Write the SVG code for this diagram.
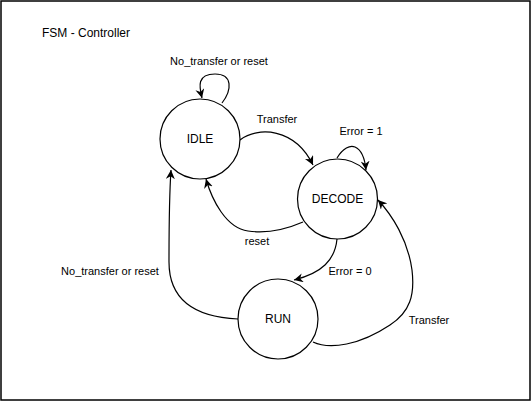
<svg xmlns="http://www.w3.org/2000/svg" width="531" height="402" viewBox="0 0 531 402">
<defs>
<marker id="arr" viewBox="0 0 10 10" refX="10" refY="5" markerWidth="9" markerHeight="9" markerUnits="userSpaceOnUse" orient="auto">
<path d="M0,0 L10,5 L0,10 L3,5 Z" fill="#000"/>
</marker>
</defs>
<style>
.st{fill:#fff;stroke:#000;stroke-width:1.2}
.nt{font-family:"Liberation Sans",Arial,sans-serif;font-size:12px;fill:#000;text-anchor:middle}
.lb{font-family:"Liberation Sans",Arial,sans-serif;font-size:11px;fill:#000;text-anchor:middle}
.ed{fill:none;stroke:#000;stroke-width:1.2;marker-end:url(#arr)}
</style>
<rect x="1" y="1" width="529" height="399" fill="#fff" stroke="#000" stroke-width="1.5"/>
<text x="42" y="37" style="font-family:'Liberation Sans',Arial,sans-serif;font-size:12px;fill:#000">FSM - Controller</text>
<g id="connectors">
<path class="ed" d="M222,103 C232,90 233,74 215,74 C197,74 199,86 202,98"/>
<path class="ed" d="M240,140 C258,126 295,128 313,165"/>
<path class="ed" d="M337,158 C343,148 350,145 355,147 C362,150 365,160 366,170"/>
<path class="ed" d="M303,222 C280,232 262,233 248,231 C226,228 212,200 206,179"/>
<path class="ed" d="M337,239 C335,260 322,273 294,280"/>
<path class="ed" d="M238,319 C195,317 169,300 169,262 C169,230 169,200 171,170"/>
<path class="ed" d="M313,342 C330,350 360,345 390,325 C410,312 415,295 412,270 C408,240 392,215 378,200"/>
</g>
<g id="labels">
<text class="lb" x="219" y="65">No_transfer or reset</text>
<text class="lb" x="277" y="123">Transfer</text>
<text class="lb" x="361" y="135">Error = 1</text>
<text class="lb" x="257" y="245">reset</text>
<text class="lb" x="350" y="275">Error = 0</text>
<text class="lb" x="110" y="275">No_transfer or reset</text>
<text class="lb" x="429" y="324">Transfer</text>
</g>
<g id="idle">
<circle class="st" cx="200" cy="139" r="40"/>
<text class="nt" x="200" y="143">IDLE</text>
</g>
<g id="decode">
<circle class="st" cx="337.5" cy="199" r="40"/>
<text class="nt" x="337.5" y="203">DECODE</text>
</g>
<g id="run">
<circle class="st" cx="278" cy="319" r="40"/>
<text class="nt" x="278" y="323">RUN</text>
</g>
</svg>
